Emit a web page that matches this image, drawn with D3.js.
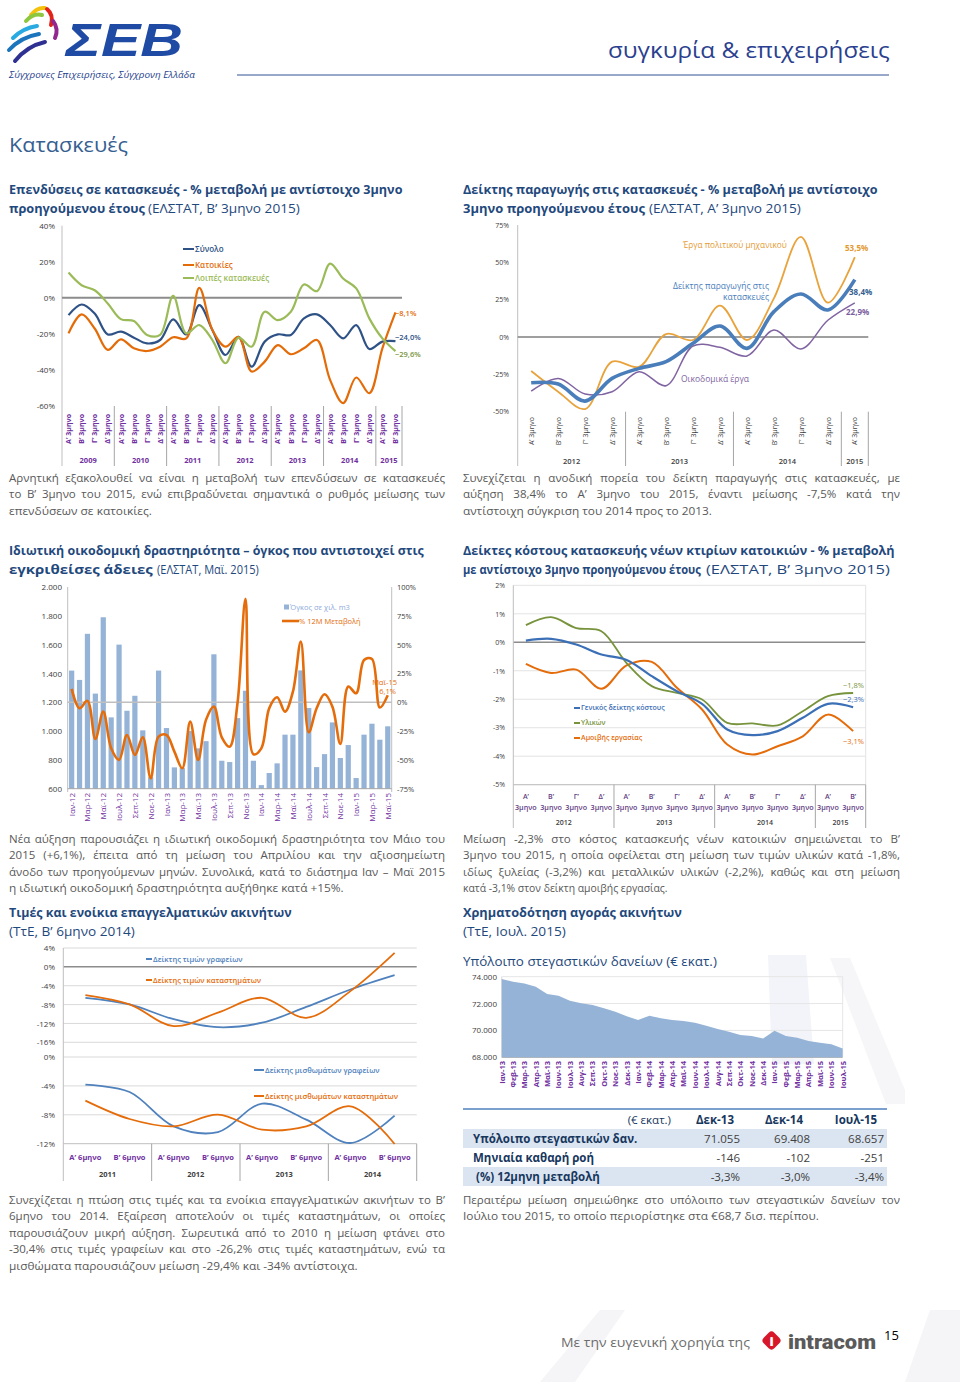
<!DOCTYPE html>
<html lang="el">
<head>
<meta charset="UTF-8" />
<script src="https://d3js.org/d3.v7.min.js"></script>
<title>Κατασκευές</title>
<style>
  body { margin: 0; background: #fff; }
  svg { display: block; font-family: 'Open Sans', sans-serif; }
</style>
</head>
<body>
<script>
// ---------------- data ----------------
const qLabels = ['Α’ 3μηνο', 'Β’ 3μηνο', 'Γ’ 3μηνο', 'Δ’ 3μηνο']

// Επενδύσεις σε κατασκευές (%)
const c1Years = ['2009', '2010', '2011', '2012', '2013', '2014', '2015']
const c1YearLen = [4, 4, 4, 4, 4, 4, 2]
const c1Total = [-9.6, -3.7, -8.7, -20.3, -18.8, -22.1, -25.3, -23.4, -12, -20.3, -4.1, -17.9, -31.7, -21.7, -38.2, -24.3, -20.3, -20.6, -11.4, -9.2, -15.1, -22.5, -15.1, -28.4, -24.3, -24.0]
const c1Housing = [-19.7, -9.2, -17, -28.9, -23, -28, -29.5, -27.1, -21.9, -22.5, 5.5, -17.9, -27.1, -21.7, -40.9, -35.4, -26.2, -31.3, -28, -23.4, -45.5, -58.4, -44.2, -52.9, -28, -8.1]
const c1Other = [14, 7, 4.2, -3.1, -11.8, -12.9, -20.6, -20.6, 1.1, -19.7, -15.1, -23.4, -36.3, -22.1, -27.1, -7.7, -12.4, -7.7, 7.4, 3.7, 19, 10.7, 5.2, -11.4, -22.5, -29.6]
const c1Ticks = [40, 20, 0, -20, -40, -60]

// Δείκτης παραγωγής στις κατασκευές (%)
const c2Years = ['2012', '2013', '2014', '2015']
const c2YearLen = [4, 4, 4, 1]
const c2Index = [-30.6, -31.5, -42.9, -27.7, -21, -16.5, -4.2, 7.4, -7.6, 17, 28.8, 18.1, 38.4]
const c2Civil = [-22.8, -36.6, -48.2, -16.5, -19.9, 2, -2, 21, -2, 25.9, 67, 23, 53.5]
const c2Building = [-36.2, -27.7, -38.2, -36.6, -23.2, -32.6, -6, -6.9, -12.7, 4.7, -8, 11.2, 22.9]
const c2Ticks = [75, 50, 25, 0, -25, -50]

// Ιδιωτική οικοδομική δραστηριότητα
const c3Months = ['Ιαν-12', 'Φεβ-12', 'Μαρ-12', 'Απρ-12', 'Μαϊ-12', 'Ιουν-12', 'Ιουλ-12', 'Αυγ-12', 'Σεπ-12', 'Οκτ-12', 'Νοε-12', 'Δεκ-12',
  'Ιαν-13', 'Φεβ-13', 'Μαρ-13', 'Απρ-13', 'Μαϊ-13', 'Ιουν-13', 'Ιουλ-13', 'Αυγ-13', 'Σεπ-13', 'Οκτ-13', 'Νοε-13', 'Δεκ-13',
  'Ιαν-14', 'Φεβ-14', 'Μαρ-14', 'Απρ-14', 'Μαϊ-14', 'Ιουν-14', 'Ιουλ-14', 'Αυγ-14', 'Σεπ-14', 'Οκτ-14', 'Νοε-14', 'Δεκ-14',
  'Ιαν-15', 'Φεβ-15', 'Μαρ-15', 'Απρ-15', 'Μαϊ-15']
const c3Volume = [1420, 1355, 1675, 1260, 1790, 1095, 1600, 1141, 1245, 1005, 680, 1420, 1021, 748, 743, 1000, 880, 930, 1533, 794, 785, 1090, 1280, 794, 625, 709, 776, 975, 975, 1421, 1160, 750, 840, 1060, 813, 903, 674, 975, 1051, 940, 1033]
const c3Change = [11.6, -5.2, 1.2, -31.8, -8.1, -40, -50, -28.4, -45.7, -30.4, -66, -29.8, -28.4, -42.8, -57.3, -16.8, -50, -15.3, -3.8, -30.4, -38.5, 0, 89.7, -45.1, -40, -5.2, 4.3, -8.1, 9.2, 52.6, -26, -5.2, 6.9, -3.8, -36.1, 13.6, 7.8, 36.7, 37.5, -4.6, 6.1]
const c3LeftTicks = [2000, 1800, 1600, 1400, 1200, 1000, 800, 600]
const c3RightTicks = [100, 75, 50, 25, 0, -25, -50, -75]

// Δείκτες κόστους κατασκευής (%)
const c4Years = ['2012', '2013', '2014', '2015']
const c4YearLen = [4, 4, 4, 2]
const c4Letters = ['Α’', 'Β’', 'Γ’', 'Δ’']
const c4Cost = [0.06, 0.12, -0.08, -0.43, -0.62, -1.19, -1.72, -2.16, -3.06, -3.26, -3.12, -2.65, -2.16, -2.28]
const c4Materials = [0.6, 0.88, 0.5, 0.39, -0.73, -1.54, -1.78, -2.01, -2.83, -2.85, -2.92, -2.42, -1.89, -1.78]
const c4Labour = [-0.76, -1.08, -0.96, -1.63, -0.81, -0.69, -1.6, -2.36, -3.59, -3.94, -3.65, -3.3, -2.54, -3.12]
const c4Ticks = [2, 1, 0, -1, -2, -3, -4, -5]

// Τιμές και ενοίκια επαγγελματικών ακινήτων (%)
const c5Years = ['2011', '2012', '2013', '2014']
const c5Halves = ['Α’ 6μηνο', 'Β’ 6μηνο']
const c5PriceOffice = [-6.56, -7.97, -11.1, -12.8, -11.85, -8.5, -4.8, -1.76]
const c5PriceShop = [-6.0, -7.97, -12.56, -9.7, -6.56, -10.8, -5.15, 2.96]
const c5RentOffice = [-3.83, -4.84, -9.6, -10.4, -6.46, -8.67, -11.9, -8.12]
const c5RentShop = [-6.04, -8.58, -9.6, -7.98, -10.06, -9.6, -6.83, -12.04]
const c5TopTicks = [4, 0, -4, -8, -12, -16]
const c5BotTicks = [0, -4, -8, -12]

// Υπόλοιπο στεγαστικών δανείων (€ εκατ.)
const c6Months = ['Ιαν-13', 'Φεβ-13', 'Μαρ-13', 'Απρ-13', 'Μαϊ-13', 'Ιουν-13', 'Ιουλ-13', 'Αυγ-13', 'Σεπ-13', 'Οκτ-13', 'Νοε-13', 'Δεκ-13',
  'Ιαν-14', 'Φεβ-14', 'Μαρ-14', 'Απρ-14', 'Μαϊ-14', 'Ιουν-14', 'Ιουλ-14', 'Αυγ-14', 'Σεπ-14', 'Οκτ-14', 'Νοε-14', 'Δεκ-14',
  'Ιαν-15', 'Φεβ-15', 'Μαρ-15', 'Απρ-15', 'Μαϊ-15', 'Ιουν-15', 'Ιουλ-15']
const c6Balance = [73830, 73630, 73500, 73255, 72710, 72590, 72215, 72015, 71890, 71645, 71400, 71055,
  70780, 71100, 70900, 70780, 70700, 70580, 70355, 70110, 69910, 69660, 69590, 69408,
  69980, 69590, 69460, 69215, 69090, 68970, 68657]
const c6Ticks = [74000, 72000, 70000, 68000]

// πίνακας
const tblCols = ['Δεκ-13', 'Δεκ-14', 'Ιουλ-15']
const tblRows = ['Υπόλοιπο στεγαστικών δαν.', 'Μηνιαία καθαρή ροή', '(%) 12μηνη μεταβολή']
const tblValues = [['71.055', '69.408', '68.657'], ['-146', '-102', '-251'], ['-3,3%', '-3,0%', '-3,4%']]

// ---------------- helpers ----------------
const svg = d3.select('body').append('svg').attr('width', 960).attr('height', 1382)
const grInt = d3.format(',')
const grFmt = d => grInt(d).replace(/,/g, '.')
const pct = v => d3.format('.1f')(v).replace('.', ',') + '%'
const purple = '#7030a0', navy = '#1f497d', dark = '#404040'

// text squeezed/stretched horizontally to a given width
function fit(g, x, y, s, w, size, weight, fill, family, style) {
  const t = g.append('text').attr('font-size', size).attr('font-weight', weight).attr('fill', fill)
  if (family) t.attr('font-family', family)
  if (style) t.attr('font-style', style)
  t.text(s)
  const k = w ? w / t.node().getComputedTextLength() : 1
  t.attr('transform', `translate(${x},${y}) scale(${k},1)`)
  return t
}

function para(x, y, lines, w, lastW) {
  lines.forEach((s, i) => {
    const yy = y + i * 16.4
    const last = i === lines.length - 1
    const target = last ? lastW : w
    const t = svg.append('text').attr('x', x).attr('y', yy).attr('font-size', 11.5).attr('fill', '#595959').text(s)
    const len = t.node().getComputedTextLength()
    const gaps = s.split(' ').length - 1
    if (!last && len < target && gaps) t.style('word-spacing', ((target - len) / gaps) + 'px')
    else t.attr('x', null).attr('y', null).attr('transform', `translate(${x},${yy}) scale(${target / len},1)`)
  })
}

function yAxis(g, scale, x, ticks, fmt, right, size) {
  const ax = (right ? d3.axisRight(scale) : d3.axisLeft(scale))
    .tickValues(ticks).tickFormat(fmt).tickSize(0).tickPadding(0)
  const a = g.append('g').attr('transform', `translate(${x},0)`).call(ax)
  a.select('.domain').remove()
  a.attr('font-family', null).attr('font-size', size || 7.5)
  a.selectAll('text').attr('fill', dark)
  return a
}

function line(g, x1, x2, y1, y2, color, w) {
  g.append('line').attr('x1', x1).attr('x2', x2).attr('y1', y1).attr('y2', y2)
    .attr('stroke', color).attr('stroke-width', w || 1)
}

function series(g, data, cx, y, color, w) {
  const gen = d3.line().x((d, i) => cx(i)).y(d => y(d)).curve(d3.curveCatmullRom.alpha(0.5))
  g.append('path').datum(data).attr('d', gen).attr('fill', 'none')
    .attr('stroke', color).attr('stroke-width', w).attr('stroke-linejoin', 'round')
}

function rotLabels(g, labels, cx, yEnd, color, size, weight) {
  g.selectAll(null).data(labels).join('text')
    .attr('transform', (d, i) => `translate(${cx(i) + size * 0.38},${yEnd}) rotate(-90)`)
    .attr('text-anchor', 'end').attr('font-size', size).attr('font-weight', weight)
    .attr('fill', color).text(d => d)
}

function yearGroups(g, x, years, lens, yTop, yBot, yText, color, size, weight) {
  let start = 0
  years.forEach((yr, k) => {
    const x0 = x(start), x1 = x(start + lens[k] - 1) + x.bandwidth()
    line(g, x1, x1, yTop, yBot, '#a6a6a6')
    g.append('text').attr('x', (x0 + x1) / 2).attr('y', yText).attr('text-anchor', 'middle')
      .attr('font-size', size).attr('font-weight', weight).attr('fill', color).text(yr)
    start += lens[k]
  })
}

function legendItem(g, x, y, len, color, label, size, w) {
  line(g, x, x + len, y, y, color, w || 2)
  g.append('text').attr('x', x + len + 1).attr('y', y + size * 0.35).attr('font-size', size)
    .attr('font-weight', 600).attr('fill', color).text(label)
}

// ---------------- faint background marks ----------------
const bg = svg.append('g').attr('fill', '#f3f4f9')
bg.append('polygon').attr('points', '768,955 806,955 814,1064 772,1064')
bg.append('polygon').attr('points', '830,958 850,958 905,1090 905,1104 886,1104').attr('fill', '#f6f6f8')
bg.append('polygon').attr('points', '540,1382 600,1310 625,1310 575,1382').attr('fill', '#f5f5f8')
bg.append('polygon').attr('points', '905,1382 930,1310 960,1310 960,1382').attr('fill', '#f5f5f8')

// ---------------- header ----------------
const logo = svg.append('g').attr('stroke-linecap', 'round').attr('fill', 'none').attr('stroke-width', 4)
const swooshes = [
  ['#f4c20d', 'M31,15 Q37,7 45,8'], ['#8dc63f', 'M26,21 Q33,13 42,15'],
  ['#e2231a', 'M47,9 Q54,15 51,25'], ['#92278f', 'M53,21 Q59,29 55,38'],
  ['#29abe2', 'M13,38 Q23,28 37,26'], ['#1c75bc', 'M9,50 Q21,37 39,34'],
  ['#2e3192', 'M15,61 Q27,46 45,42']
]
swooshes.forEach(([c, d]) => logo.append('path').attr('d', d).attr('stroke', c))
fit(svg, 66, 56, 'ΣΕΒ', 117, 46, 700, '#1f4ba5', "'Liberation Sans', sans-serif", 'italic')
fit(svg, 9, 78, 'Σύγχρονες Επιχειρήσεις, Σύγχρονη Ελλάδα', 186, 9.5, 400, '#1f3f8f', null, 'italic')
fit(svg, 608, 58, 'συγκυρία & επιχειρήσεις', 282, 22, 400, '#2b3f8f')
line(svg, 237, 889, 75, 75, '#98a8c8', 2)

fit(svg, 9, 152, 'Κατασκευές', 119, 19.5, 400, '#366092')

// ---------------- headings & paragraphs ----------------
const hc = navy
fit(svg, 9, 194, 'Επενδύσεις σε κατασκευές - % μεταβολή με αντίστοιχο 3μηνο', 394, 13, 700, hc)
fit(svg, 9, 213, 'προηγούμενου έτους', 136, 13, 700, hc)
fit(svg, 148, 213, '(ΕΛΣΤΑΤ, Β’ 3μηνο 2015)', 152, 13, 400, hc)
fit(svg, 463, 194, 'Δείκτης παραγωγής στις κατασκευές - % μεταβολή με αντίστοιχο', 415, 13, 700, hc)
fit(svg, 463, 213, '3μηνο προηγούμενου έτους', 182, 13, 700, hc)
fit(svg, 649, 213, '(ΕΛΣΤΑΤ, Α’ 3μηνο 2015)', 152, 13, 400, hc)

para(9, 482, ['Αρνητική εξακολουθεί να είναι η μεταβολή των επενδύσεων σε κατασκευές',
  'το Β’ 3μηνο του 2015, ενώ επιβραδύνεται σημαντικά ο ρυθμός μείωσης των',
  'επενδύσεων σε κατοικίες.'], 436, 143)
para(463, 482, ['Συνεχίζεται η ανοδική πορεία του δείκτη παραγωγής στις κατασκευές, με',
  'αύξηση 38,4% το Α’ 3μηνο του 2015, έναντι μείωσης -7,5% κατά την',
  'αντίστοιχη σύγκριση του 2014 προς το 2013.'], 437, 249)

fit(svg, 9, 555, 'Ιδιωτική οικοδομική δραστηριότητα – όγκος που αντιστοιχεί στις', 415, 13, 700, hc)
fit(svg, 9, 574, 'εγκριθείσες άδειες', 144, 13, 700, hc)
fit(svg, 157, 574, '(ΕΛΣΤΑΤ, Μαϊ. 2015)', 102, 13, 400, hc)
fit(svg, 463, 555, 'Δείκτες κόστους κατασκευής νέων κτιρίων κατοικιών  - % μεταβολή', 432, 13, 700, hc)
fit(svg, 463, 574, 'με αντίστοιχο 3μηνο προηγούμενου έτους', 238, 13, 700, hc)
fit(svg, 706, 574, '(ΕΛΣΤΑΤ, Β’ 3μηνο 2015)', 184, 13, 400, hc)

para(9, 843, ['Νέα αύξηση παρουσιάζει η ιδιωτική οικοδομική δραστηριότητα τον Μάιο του',
  '2015 (+6,1%), έπειτα από τη μείωση του Απριλίου και την αξιοσημείωτη',
  'άνοδο των προηγούμενων μηνών. Συνολικά, κατά το διάστημα Ιαν – Μαϊ 2015',
  'η ιδιωτική οικοδομική δραστηριότητα αυξήθηκε κατά +15%.'], 436, 335)
para(463, 843, ['Μείωση -2,3% στο κόστος κατασκευής νέων κατοικιών σημειώνεται το Β’',
  '3μηνο του 2015, η οποία οφείλεται στη μείωση των τιμών υλικών κατά -1,8%,',
  'ιδίως ξυλείας (-3,2%) και μεταλλικών υλικών (-2,2%), καθώς και στη μείωση',
  'κατά -3,1% στον δείκτη αμοιβής εργασίας.'], 437, 205)

fit(svg, 9, 917, 'Τιμές και ενοίκια επαγγελματικών ακινήτων', 283, 13, 700, hc)
fit(svg, 9, 936, '(ΤτΕ, Β’ 6μηνο 2014)', 126, 13, 400, hc)
fit(svg, 463, 917, 'Χρηματοδότηση αγοράς ακινήτων', 219, 13, 700, hc)
fit(svg, 463, 936, '(ΤτΕ, Ιουλ. 2015)', 103, 13, 400, hc)
fit(svg, 463, 966, 'Υπόλοιπο στεγαστικών δανείων (€ εκατ.)', 254, 13.5, 400, '#1f497d')

para(9, 1204, ['Συνεχίζεται η πτώση στις τιμές και τα ενοίκια επαγγελματικών ακινήτων το Β’',
  '6μηνο του 2014. Εξαίρεση αποτελούν οι τιμές καταστημάτων, οι οποίες',
  'παρουσιάζουν μικρή αύξηση. Σωρευτικά από το 2010 η μείωση φτάνει στο',
  '-30,4% στις τιμές γραφείων και στο -26,2% στις τιμές καταστημάτων, ενώ τα',
  'μισθώματα παρουσιάζουν μείωση -29,4% και -34% αντίστοιχα.'], 436, 349)
para(463, 1204, ['Περαιτέρω μείωση σημειώθηκε στο υπόλοιπο των στεγαστικών δανείων τον',
  'Ιούλιο του 2015, το οποίο περιορίστηκε στα €68,7 δισ. περίπου.'], 437, 356)

// ---------------- chart 1 ----------------
{
  const g = svg.append('g')
  const x = d3.scaleBand().domain(d3.range(c1Total.length)).range([62, 402])
  const y = d3.scaleLinear().domain([-60, 40]).range([406, 225.7])
  const cx = i => x(i) + x.bandwidth() / 2
  const cats = c1Years.flatMap((yr, k) => qLabels.slice(0, c1YearLen[k]))
  yAxis(g, y, 55, c1Ticks, d => d + '%', false, 8)
  line(g, 62, 62, 225.7, 466, '#bfbfbf')
  line(g, 62, 402, y(0), y(0), '#8c8c8c', 2)
  rotLabels(g, cats, cx, 414, purple, 7, 700)
  yearGroups(g, x, c1Years, c1YearLen, 406, 466, 463, purple, 7.5, 700)
  series(g, c1Total, cx, y, '#2f5286', 2.2)
  series(g, c1Housing, cx, y, '#e36c09', 2.2)
  series(g, c1Other, cx, y, '#9bbb59', 2.2)
  legendItem(g, 183, 249, 11, '#2f5286', 'Σύνολο', 8)
  legendItem(g, 183, 265, 11, '#e36c09', 'Κατοικίες', 8)
  legendItem(g, 183, 278, 11, '#9bbb59', 'Λοιπές κατασκευές', 8)
  const n = c1Total.length - 1
  const endLab = [[c1Housing[n], '#e36c09', 316], [c1Total[n], '#2f5286', 340], [c1Other[n], '#77933c', 357]]
  endLab.forEach(([v, c, yy]) => g.append('text').attr('x', 395).attr('y', yy).attr('font-size', 7.5)
    .attr('font-weight', 600).attr('fill', c).text(pct(v)))
}

// ---------------- chart 2 ----------------
{
  const g = svg.append('g')
  const x = d3.scaleBand().domain(d3.range(c2Index.length)).range([517.7, 868.3])
  const y = d3.scaleLinear().domain([-50, 75]).range([411.7, 225])
  const cx = i => x(i) + x.bandwidth() / 2
  const cats = c2Years.flatMap((yr, k) => qLabels.slice(0, c2YearLen[k]))
  yAxis(g, y, 509, c2Ticks, d => d + '%', false, 7)
  line(g, 517.7, 517.7, 225, 466, '#bfbfbf')
  line(g, 517.7, 868.3, y(0), y(0), '#7f7f7f', 1.5)
  rotLabels(g, cats, cx, 417, dark, 7, 400)
  yearGroups(g, x, c2Years, c2YearLen, 411.7, 466, 464, dark, 7.5, 600)
  series(g, c2Building, cx, y, '#8064a2', 1.5)
  series(g, c2Civil, cx, y, '#e8a33d', 1.8)
  series(g, c2Index, cx, y, '#4a7ebb', 3.6)
  const ann = g.append('g').attr('font-size', 8.5)
  fit(ann, 683, 248, 'Έργα πολιτικού μηχανικού', 104, 8.5, 400, '#e39a31')
  ann.append('text').attr('x', 769).attr('y', 289).attr('text-anchor', 'end').attr('fill', '#4a7ebb').text('Δείκτης παραγωγής στις')
  ann.append('text').attr('x', 769).attr('y', 300).attr('text-anchor', 'end').attr('fill', '#4a7ebb').text('κατασκευές')
  ann.append('text').attr('x', 681).attr('y', 382).attr('fill', '#8064a2').text('Οικοδομικά έργα')
  const n = c2Index.length - 1
  ann.append('text').attr('x', 845).attr('y', 251).attr('font-size', 8).attr('font-weight', 700).attr('fill', '#e39a31').text(pct(c2Civil[n]))
  ann.append('text').attr('x', 849).attr('y', 295).attr('font-size', 8).attr('font-weight', 700).attr('fill', '#365f91').text(pct(c2Index[n]))
  ann.append('text').attr('x', 846).attr('y', 315).attr('font-size', 8).attr('font-weight', 700).attr('fill', '#7b5ea0').text(pct(c2Building[n]))
}

// ---------------- chart 3 ----------------
{
  const g = svg.append('g')
  const x = d3.scaleBand().domain(c3Months).range([67.7, 391.7]).paddingInner(0.34).paddingOuter(0.17)
  const yL = d3.scaleLinear().domain([600, 2000]).range([788.7, 587])
  const yR = d3.scaleLinear().domain([-75, 100]).range([788.7, 587])
  const cx = i => x(c3Months[i]) + x.bandwidth() / 2
  yAxis(g, yL, 62, c3LeftTicks, grFmt, false, 8)
  yAxis(g, yR, 397, c3RightTicks, d => d + '%', true, 7.5)
  line(g, 67.7, 67.7, 587, 792, '#bfbfbf')
  line(g, 391.7, 391.7, 587, 792, '#bfbfbf')
  g.selectAll(null).data(c3Volume).join('rect')
    .attr('x', (d, i) => x(c3Months[i])).attr('width', x.bandwidth())
    .attr('y', d => yL(d)).attr('height', d => yL(600) - yL(d)).attr('fill', '#95b3d7')
  line(g, 67.7, 391.7, yR(0), yR(0), '#bfbfbf', 1.5)
  line(g, 67.7, 391.7, 788.7, 788.7, '#a6a6a6')
  series(g, c3Change, cx, yR, '#e46c0a', 2.6)
  const every = c3Months.filter((d, i) => i % 2 === 0)
  rotLabels(g, every, i => cx(i * 2), 793, purple, 8, 400)
  g.append('rect').attr('x', 284).attr('y', 604.5).attr('width', 5).attr('height', 5).attr('fill', '#95b3d7')
  g.append('text').attr('x', 290).attr('y', 610).attr('font-size', 7.5).attr('fill', '#8eaadb').text('Όγκος σε χιλ. m3')
  line(g, 282, 299, 621, 621, '#e46c0a', 2.6)
  g.append('text').attr('x', 299).attr('y', 624).attr('font-size', 7.5).attr('fill', '#e46c0a').text('% 12M Μεταβολή')
  const n = c3Change.length - 1
  g.append('text').attr('x', 397).attr('y', 685).attr('text-anchor', 'end').attr('font-size', 7.5)
    .attr('fill', '#e46c0a').text(c3Months[n])
  g.append('text').attr('x', 396).attr('y', 694).attr('text-anchor', 'end').attr('font-size', 7.5)
    .attr('fill', '#e46c0a').text(pct(c3Change[n]))
}

// ---------------- chart 4 ----------------
{
  const g = svg.append('g')
  const x = d3.scaleBand().domain(d3.range(c4Cost.length)).range([513.3, 865.7])
  const y = d3.scaleLinear().domain([-5, 2]).range([784.7, 585.3])
  const cx = i => x(i) + x.bandwidth() / 2
  c4Ticks.forEach(t => line(g, 513.3, 865.7, y(t), y(t), t === 0 ? '#8c8c8c' : '#e3e3e3', t === 0 ? 1.5 : 1))
  yAxis(g, y, 505, c4Ticks, d => d + '%', false, 7)
  line(g, 513.3, 513.3, 585.3, 828, '#bfbfbf')
  line(g, 865.7, 865.7, 585.3, 784.7, '#e3e3e3')
  line(g, 513.3, 865.7, 784.7, 784.7, '#bfbfbf')
  const letters = c4Years.flatMap((yr, k) => c4Letters.slice(0, c4YearLen[k]))
  g.selectAll(null).data(letters).join('text').attr('x', (d, i) => cx(i)).attr('y', 799)
    .attr('text-anchor', 'middle').attr('font-size', 7).attr('font-weight', 600).attr('fill', '#5f3c82').text(d => d)
  g.selectAll(null).data(letters).join('text').attr('x', (d, i) => cx(i)).attr('y', 810)
    .attr('text-anchor', 'middle').attr('font-size', 7.2).attr('font-weight', 600).attr('fill', '#5f3c82').text('3μηνο')
  yearGroups(g, x, c4Years, c4YearLen, 784.7, 828, 825, dark, 7, 600)
  series(g, c4Labour, cx, y, '#e46c0a', 2)
  series(g, c4Materials, cx, y, '#77933c', 1.8)
  series(g, c4Cost, cx, y, '#3b6fb6', 2.2)
  legendItem(g, 574, 708, 6, '#3b6fb6', 'Γενικός δείκτης κόστους', 7)
  legendItem(g, 574, 723, 6, '#77933c', 'Υλικών', 7)
  legendItem(g, 574, 738, 6, '#e46c0a', 'Αμοιβής εργασίας', 7)
  const n = c4Cost.length - 1
  g.append('text').attr('x', 843).attr('y', 688).attr('font-size', 7.5).attr('fill', '#77933c').text(pct(c4Materials[n]))
  g.append('text').attr('x', 843).attr('y', 702).attr('font-size', 7.5).attr('fill', '#3b6fb6').text(pct(c4Cost[n]))
  g.append('text').attr('x', 843).attr('y', 744).attr('font-size', 7.5).attr('fill', '#e46c0a').text(pct(c4Labour[n]))
}

// ---------------- chart 5 ----------------
{
  const g = svg.append('g')
  const x = d3.scaleBand().domain(d3.range(c5PriceOffice.length)).range([63.3, 416.7])
  const yT = d3.scaleLinear().domain([-16, 4]).range([1042.3, 948])
  const yB = d3.scaleLinear().domain([-12, 0]).range([1143.7, 1057])
  const cx = i => x(i) + x.bandwidth() / 2
  c5TopTicks.forEach(t => line(g, 63.3, 416.7, yT(t), yT(t), t === 0 ? '#8c8c8c' : '#d9d9d9', t === 0 ? 1.5 : 1))
  c5BotTicks.forEach(t => line(g, 63.3, 416.7, yB(t), yB(t), t === -12 ? '#bfbfbf' : '#d9d9d9'))
  yAxis(g, yT, 55, c5TopTicks, d => d + '%', false, 8)
  yAxis(g, yB, 55, c5BotTicks, d => d + '%', false, 8)
  line(g, 63.3, 63.3, 948, 1181, '#bfbfbf')
  const halves = c5Years.flatMap(() => c5Halves)
  g.selectAll(null).data(halves).join('text').attr('x', (d, i) => cx(i)).attr('y', 1160)
    .attr('text-anchor', 'middle').attr('font-size', 7.5).attr('font-weight', 700).attr('fill', purple).text(d => d)
  yearGroups(g, x, c5Years, c5Years.map(() => 2), 1143.7, 1181, 1177, dark, 7.5, 700)
  series(g, c5PriceOffice, cx, yT, '#4f81bd', 1.8)
  series(g, c5PriceShop, cx, yT, '#e46c0a', 1.8)
  series(g, c5RentOffice, cx, yB, '#4f81bd', 1.8)
  series(g, c5RentShop, cx, yB, '#e46c0a', 1.8)
  legendItem(g, 146, 959, 6, '#4f81bd', 'Δείκτης τιμών γραφείων', 7.5)
  legendItem(g, 146, 980, 6, '#e46c0a', 'Δείκτης τιμών καταστημάτων', 7.5)
  legendItem(g, 254, 1070, 10, '#4f81bd', 'Δείκτης μισθωμάτων γραφείων', 7.5)
  legendItem(g, 254, 1096, 10, '#e46c0a', 'Δείκτης μισθωμάτων καταστημάτων', 7.5)
}

// ---------------- chart 6 ----------------
{
  const g = svg.append('g')
  const x = d3.scalePoint().domain(c6Months).range([501.7, 842.7])
  const y = d3.scaleLinear().domain([68000, 74000]).range([1057.3, 976.7])
  c6Ticks.forEach(t => line(g, 501.7, 842.7, y(t), y(t), t === 68000 ? '#a6a6a6' : '#e6e6e6'))
  line(g, 501.7, 501.7, 976.7, 1057.3, '#d9d9d9')
  line(g, 842.7, 842.7, 976.7, 1057.3, '#e6e6e6')
  const area = d3.area().x((d, i) => x(c6Months[i])).y0(y(68000)).y1(d => y(d))
  g.append('path').datum(c6Balance).attr('d', area).attr('fill', '#95b3d7')
  yAxis(g, y, 497, c6Ticks, grFmt, false, 8)
  rotLabels(g, c6Months, i => x(c6Months[i]), 1061, purple, 7.5, 700)
}

// ---------------- table ----------------
{
  const g = svg.append('g').attr('font-size', 11.5)
  const colX = [715, 784, 856], valX = [740, 810, 884], rowY = [1139, 1158, 1177]
  line(g, 463, 887, 1109, 1109, '#4f81bd', 1.5)
  g.append('text').attr('x', 671).attr('y', 1124).attr('text-anchor', 'end').attr('fill', '#17375e').text('(€ εκατ.)')
  tblCols.forEach((c, j) => g.append('text').attr('x', colX[j]).attr('y', 1124).attr('text-anchor', 'middle')
    .attr('font-weight', 700).attr('fill', '#17375e').text(c))
  tblRows.forEach((r, i) => {
    if (i % 2 === 0) g.append('rect').attr('x', 463).attr('y', rowY[i] - 10).attr('width', 424).attr('height', 19).attr('fill', '#dbe5f1')
    g.append('text').attr('x', i === 2 ? 476 : 473).attr('y', rowY[i] + 4).attr('font-weight', 700).attr('fill', '#17375e').text(r)
    tblValues[i].forEach((v, j) => g.append('text').attr('x', valX[j]).attr('y', rowY[i] + 4)
      .attr('text-anchor', 'end').attr('fill', dark).text(v))
  })
}

// ---------------- footer ----------------
fit(svg, 561, 1347, 'Με την ευγενική χορηγία της', 189, 13, 400, '#6d6d6d')
svg.append('rect').attr('x', 764).attr('y', 1333).attr('width', 15).attr('height', 15).attr('rx', 4)
  .attr('fill', '#d7182a').attr('transform', 'rotate(45 771.5 1340.5)')
svg.append('text').attr('x', 771.5).attr('y', 1346).attr('text-anchor', 'middle').attr('font-size', 13)
  .attr('font-weight', 900).attr('fill', '#fff').text('i')
fit(svg, 788, 1349, 'intracom', 88, 21, 900, '#5a5a5a', 'Roboto, sans-serif')
svg.append('text').attr('x', 884).attr('y', 1340).attr('font-size', 13).attr('fill', '#000').text('15')
</script>
</body>
</html>
